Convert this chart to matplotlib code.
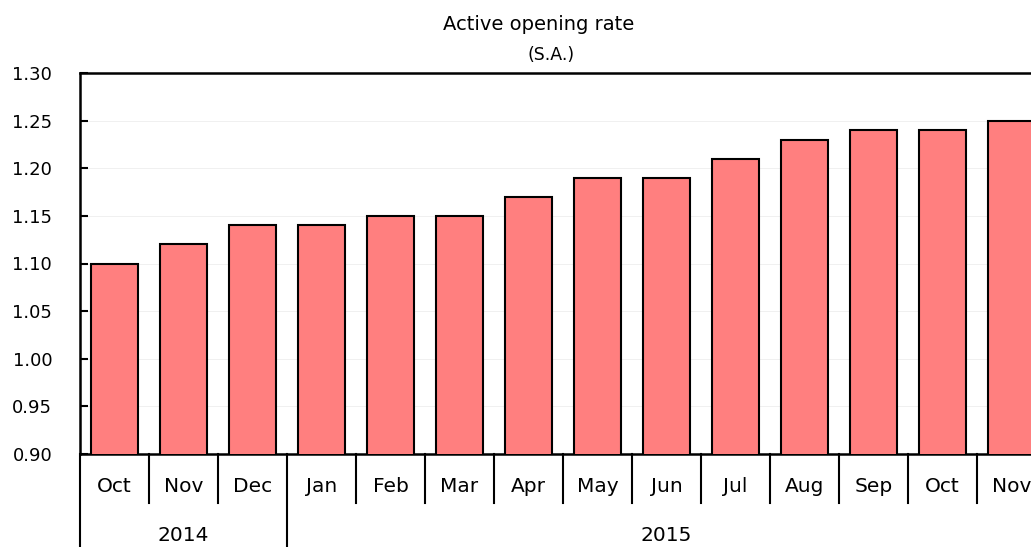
import matplotlib
matplotlib.use("Agg")
import matplotlib.pyplot as plt
import matplotlib.transforms as mtransforms

months = ["Oct", "Nov", "Dec", "Jan", "Feb", "Mar", "Apr", "May", "Jun",
          "Jul", "Aug", "Sep", "Oct", "Nov"]
years = ["2014", "2015"]
year_counts = [3, 11]
values = [1.10, 1.12, 1.14, 1.14, 1.15, 1.15, 1.17, 1.19, 1.19,
          1.21, 1.23, 1.24, 1.24, 1.25]
yticks = [0.90, 0.95, 1.00, 1.05, 1.10, 1.15, 1.20, 1.25, 1.30]

plt.rcParams['font.family'] = ['DejaVu Sans']

fig = plt.figure(figsize=(10.31, 5.47), dpi=100)
ax = fig.add_axes([80/1031, 93/547, 966/1031, 381/547])

x = list(range(len(months)))
ax.bar(x, values, width=0.67, bottom=0, color="#FF7F7F",
       edgecolor="black", linewidth=1.5, zorder=3)

ax.set_ylim(0.90, 1.30)
ax.set_xlim(-0.5, len(months) - 0.5)
ax.set_yticks(yticks)
ax.set_yticklabels([f"{t:.2f}" for t in yticks], fontsize=13)
ax.tick_params(axis="y", direction="in", length=6, width=1.5, pad=20)
ax.set_xticks([])
ax.grid(axis="y", color="#eeeeee", linewidth=0.6, zorder=0)
for s in ["left", "top", "bottom", "right"]:
    ax.spines[s].set_linewidth(1.8)

trans = mtransforms.blended_transform_factory(ax.transData, ax.transAxes)
# month labels
for i, m in enumerate(months):
    ax.text(i, -0.084, m, transform=trans, ha="center", va="center", fontsize=14.5)

# separators
year_bounds = [-0.5]
acc = -0.5
for c in year_counts:
    acc += c
    year_bounds.append(acc)
for b in [i - 0.5 for i in range(len(months) + 1)]:
    if any(abs(b - yb) < 1e-9 for yb in year_bounds):
        ax.plot([b, b], [0, -0.3], transform=trans, color="black",
                linewidth=1.5, clip_on=False)
    else:
        ax.plot([b, b], [0, -0.128], transform=trans, color="black",
                linewidth=1.5, clip_on=False)

# year labels
for j, y in enumerate(years):
    c = (year_bounds[j] + year_bounds[j + 1]) / 2
    ax.text(c, -0.2126, y, transform=trans, ha="center", va="center", fontsize=14.5)

fig.text(539/1031, 1 - 24/547, "Active opening rate", ha="center", va="center", fontsize=14)
fig.text(551/1031, 1 - 55/547, "(S.A.)", ha="center", va="center", fontsize=12.5)

fig.savefig("out.png", dpi=100)
